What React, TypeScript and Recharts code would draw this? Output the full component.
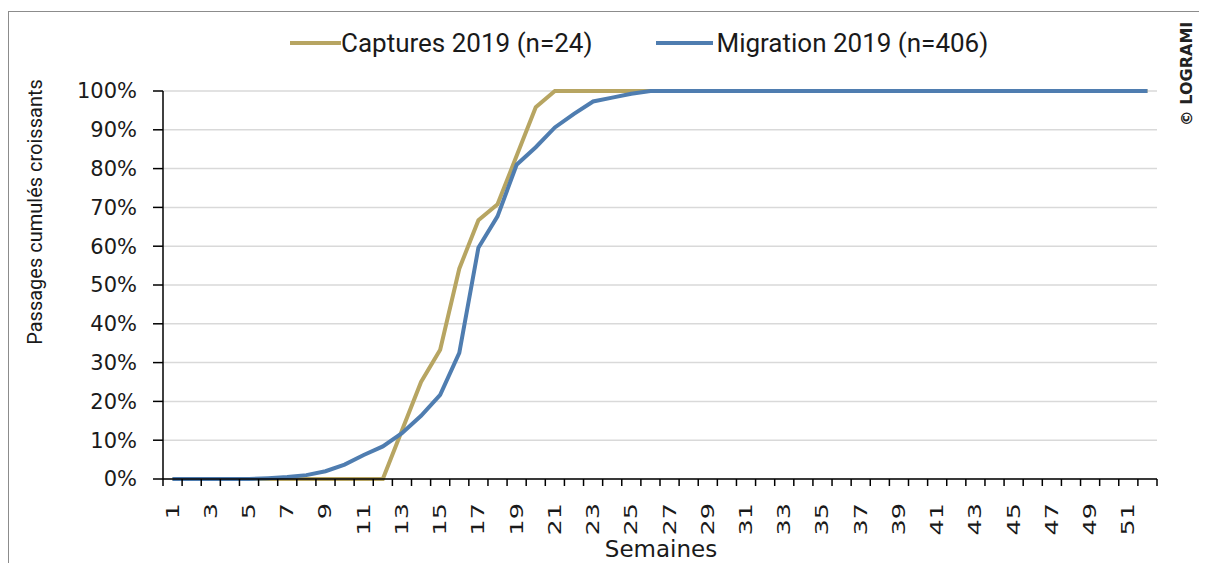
import React from 'react';
import { LineChart, Line, XAxis, YAxis, CartesianGrid, Legend } from 'recharts';

const weeks = [
  1, 2, 3, 4, 5, 6, 7, 8, 9, 10, 11, 12, 13, 14, 15, 16, 17, 18, 19, 20, 21, 22, 23, 24, 25, 26,
  27, 28, 29, 30, 31, 32, 33, 34, 35, 36, 37, 38, 39, 40, 41, 42, 43, 44, 45, 46, 47, 48, 49, 50, 51, 52,
];

// % cumulés, captures (n=24)
const captures = [
  0, 0, 0, 0, 0, 0, 0, 0, 0, 0, 0, 0, 12.5, 25, 33.3, 54.2, 66.7, 70.8, 83.3, 95.8, 100, 100, 100, 100, 100, 100,
  100, 100, 100, 100, 100, 100, 100, 100, 100, 100, 100, 100, 100, 100, 100, 100, 100, 100, 100, 100, 100, 100, 100, 100, 100, 100,
];

// % cumulés, migration (n=406)
const migration = [
  0, 0, 0, 0, 0, 0.2, 0.5, 1.0, 2.0, 3.7, 6.2, 8.4, 11.8, 16.3, 21.7, 32.5, 59.6, 67.7, 81.0, 85.5, 90.6, 94.1, 97.3, 98.3, 99.3, 100,
  100, 100, 100, 100, 100, 100, 100, 100, 100, 100, 100, 100, 100, 100, 100, 100, 100, 100, 100, 100, 100, 100, 100, 100, 100, 100,
];

const yTicks = [0, 10, 20, 30, 40, 50, 60, 70, 80, 90, 100];

const seriesNames = {
  captures: 'Captures 2019 (n=24)',
  migration: 'Migration 2019 (n=406)',
};

const colors = {
  captures: '#b7a562',
  migration: '#4f7db0',
};

const data = weeks.map((w, i) => ({
  week: w,
  captures: captures[i],
  migration: migration[i],
}));

// tick marks between weeks, labels on odd weeks
const xTicks = [
  weeks[0] - 0.5,
  ...weeks.flatMap((w) => (w % 2 === 1 ? [w, w + 0.5] : [w + 0.5])),
];

const WeekTick = (props: any) => {
  const { x, y, payload } = props;
  const v = payload.value;
  if (!Number.isInteger(v)) {
    return <line x1={x} x2={x} y1={y} y2={y + 7} stroke="#000" strokeWidth={1.5} />;
  }
  return (
    <text
      transform={`translate(${x},${y + 24}) rotate(-90) scale(1.5,1)`}
      textAnchor="end"
      dy="0.35em"
      fontSize={17}
      fontFamily="DejaVu Sans"
      fill="#1a1a1a"
    >
      {v}
    </text>
  );
};

const LegendContent = (props: any) => {
  const { payload } = props;
  return (
    <div style={{ display: 'flex', alignItems: 'center', height: 30, fontFamily: 'Roboto', fontSize: 26, color: '#1a1a1a' }}>
      {payload.map((entry: any, index: number) => (
        <div key={`item-${index}`} style={{ display: 'flex', alignItems: 'center', marginLeft: index === 0 ? 0 : 64 }}>
          <div style={{ width: index === 0 ? 51 : 57, height: 4, background: entry.color }} />
          <span style={{ marginLeft: index === 0 ? 0 : 3, whiteSpace: 'nowrap' }}>{entry.value}</span>
        </div>
      ))}
    </div>
  );
};

export default function App() {
  return (
    <div style={{ position: 'relative', width: 1199, height: 555 }}>
      <div
        style={{
          position: 'absolute',
          left: 0,
          top: 3,
          width: 1197,
          height: 552,
          boxSizing: 'border-box',
          borderTop: '1px solid #8c8c8c',
          borderLeft: '1px solid #8c8c8c',
        }}
      />
      <LineChart width={1199} height={555} data={data} margin={{ top: 83, right: 50, bottom: 0, left: 0 }}>
        <CartesianGrid yAxisId="left" vertical={false} stroke="#d9d9d9" strokeWidth={1.5} />
        <XAxis
          dataKey="week"
          type="number"
          domain={[0.5, 52.5]}
          ticks={xTicks}
          interval={0}
          height={84}
          tickSize={0}
          tickMargin={0}
          tickLine={false}
          tick={<WeekTick />}
          axisLine={{ stroke: '#000', strokeWidth: 1.5 }}
        />
        <YAxis
          yAxisId="left"
          domain={[0, 100]}
          ticks={yTicks}
          width={155}
          tickSize={10}
          tickMargin={16}
          tickFormatter={(v: number) => `${v}%`}
          tick={{ fontSize: 21, fontFamily: 'DejaVu Sans', fill: '#1a1a1a' }}
          tickLine={{ stroke: '#000', strokeWidth: 1.5 }}
          axisLine={{ stroke: '#000', strokeWidth: 1.5 }}
        />
        <YAxis
          yAxisId="right"
          orientation="right"
          domain={[0, 100]}
          width={0}
          tick={false}
          tickLine={false}
          axisLine={{ stroke: '#d9d9d9', strokeWidth: 1.5 }}
        />
        <Legend
          layout="horizontal"
          verticalAlign="middle"
          align="center"
          wrapperStyle={{ top: 20, left: 282, width: 'auto' }}
          content={<LegendContent />}
        />
        <Line
          yAxisId="left"
          type="linear"
          dataKey="captures"
          name={seriesNames.captures}
          stroke={colors.captures}
          strokeWidth={4}
          dot={false}
          isAnimationActive={false}
        />
        <Line
          yAxisId="left"
          type="linear"
          dataKey="migration"
          name={seriesNames.migration}
          stroke={colors.migration}
          strokeWidth={4}
          dot={false}
          isAnimationActive={false}
        />
      </LineChart>
      <svg
        width={1199}
        height={555}
        style={{ position: 'absolute', left: 0, top: 0, pointerEvents: 'none' }}
      >
        <text
          transform="translate(34,204) rotate(-90)"
          textAnchor="middle"
          fontFamily="Roboto"
          fontSize={20}
          fill="#1a1a1a"
        >
          Passages cumulés croissants
        </text>
        <text x={653} y={549} textAnchor="middle" fontFamily="DejaVu Sans" fontSize={23} fill="#1a1a1a">
          Semaines
        </text>
        <text
          transform="translate(1184,66) rotate(-90)"
          textAnchor="middle"
          fontFamily="DejaVu Sans"
          fontWeight="bold"
          fontSize={16}
          fill="#222"
        >
          © LOGRAMI
        </text>
      </svg>
    </div>
  );
}
